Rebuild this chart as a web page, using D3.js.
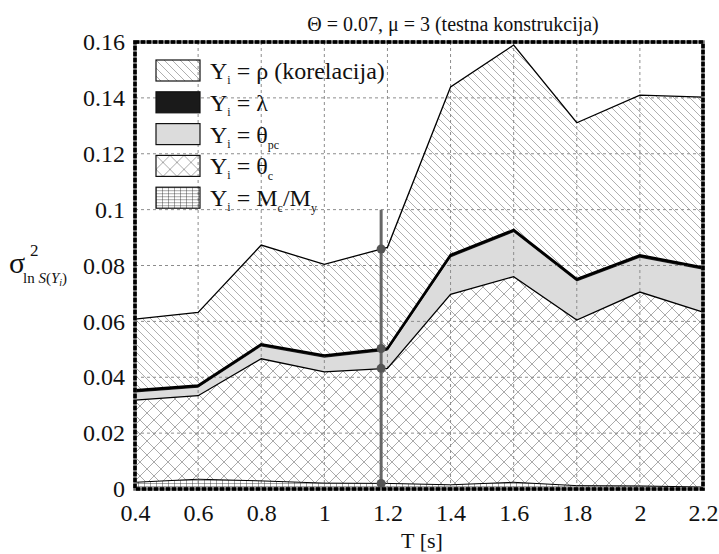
<!DOCTYPE html>
<html>
<head>
<meta charset="utf-8">
<script src="https://cdn.jsdelivr.net/npm/d3@7"></script>
<style>
  body { margin: 0; background: #fff; }
  svg, svg text { font-family: "Liberation Serif", "DejaVu Serif", serif; }
</style>
</head>
<body>
<div id="chart"></div>
<script>
// period T [s]
const periods = [0.4, 0.6, 0.8, 1.0, 1.2, 1.4, 1.6, 1.8, 2.0, 2.2];

// contribution of each parameter (stacked, bottom to top)
const mcMy   = [0.0024, 0.0035, 0.0029, 0.0021, 0.0020, 0.0015, 0.0024, 0.0012, 0.0011, 0.0007];
const thetaC = [0.0294, 0.0299, 0.0437, 0.0398, 0.0412, 0.0682, 0.0736, 0.0593, 0.0694, 0.0626];
const thetaPc = [0.0027, 0.0028, 0.0044, 0.0051, 0.0063, 0.0132, 0.0159, 0.0138, 0.0123, 0.0152];
const lambda = [0.0008, 0.0008, 0.0008, 0.0008, 0.0008, 0.0008, 0.0008, 0.0008, 0.0008, 0.0008];
const rho    = [0.0255, 0.0262, 0.0355, 0.0326, 0.0362, 0.0602, 0.0662, 0.0560, 0.0574, 0.0610];

// marker (vertical line and dots)
const markerT = 1.18;
const markerTop = 0.1;
const markerDots = [0.002, 0.0432, 0.0503, 0.0859];

const yTicks = [0, 0.02, 0.04, 0.06, 0.08, 0.1, 0.12, 0.14, 0.16];
const xTicks = [0.4, 0.6, 0.8, 1.0, 1.2, 1.4, 1.6, 1.8, 2.0, 2.2];

const width = 719, height = 554;
const margin = {top: 42, right: 16, bottom: 65, left: 135};

const svg = d3.select("#chart")
  .append("svg")
  .attr("width", width)
  .attr("height", height);

const defs = svg.append("defs");

// hatch for rho
const pRho = defs.append("pattern")
  .attr("id", "hRho").attr("patternUnits", "userSpaceOnUse")
  .attr("width", 8).attr("height", 8);
pRho.append("path").attr("d", "M-2,-2 L10,10 M-2,6 L2,10 M6,-2 L10,2")
  .attr("stroke", "#9a9a9a").attr("stroke-width", 0.8);

// cross hatch for theta_c
const pTc = defs.append("pattern")
  .attr("id", "hTc").attr("patternUnits", "userSpaceOnUse")
  .attr("width", 14).attr("height", 14);
pTc.append("path").attr("d", "M-1,-1 L15,15 M15,-1 L-1,15")
  .attr("stroke", "#a0a0a0").attr("stroke-width", 0.9);

// grid for Mc/My
const pM = defs.append("pattern")
  .attr("id", "hM").attr("patternUnits", "userSpaceOnUse")
  .attr("width", 6).attr("height", 3);
pM.append("path").attr("d", "M0,0 L0,3 M0,0 L6,0")
  .attr("stroke", "#222").attr("stroke-width", 0.8);

// scales
const x = d3.scaleLinear()
  .domain([0.4, 2.2])
  .range([margin.left, width - margin.right]);
const y = d3.scaleLinear()
  .domain([0, 0.16])
  .range([height - margin.bottom, margin.top]);

// stacked data
const table = periods.map((t, i) => ({
  T: t, m: mcMy[i], tc: thetaC[i], tpc: thetaPc[i], lam: lambda[i], rho: rho[i]
}));
const keys = ["m", "tc", "tpc", "lam", "rho"];
const fills = {m: "url(#hM)", tc: "url(#hTc)", tpc: "#dcdcdc", lam: "#1a1a1a", rho: "url(#hRho)"};
const series = d3.stack().keys(keys)(table);

const area = d3.area()
  .x((d) => x(d.data.T))
  .y0((d) => y(d[0]))
  .y1((d) => y(d[1]));

svg.append("g").selectAll("path")
  .data(series)
  .enter()
  .append("path")
    .attr("d", area)
    .attr("fill", (s) => fills[s.key]);

// grid
const grid = svg.append("g");
grid.selectAll("line.gy")
  .data(yTicks.slice(1, -1))
  .enter().append("line")
    .attr("x1", x.range()[0]).attr("x2", x.range()[1])
    .attr("y1", (d) => y(d)).attr("y2", (d) => y(d))
    .attr("stroke", "#8c8c8c").attr("stroke-width", 1)
    .attr("stroke-dasharray", "3,3");
grid.selectAll("line.gx")
  .data(xTicks.slice(1, -1))
  .enter().append("line")
    .attr("y1", y.range()[0]).attr("y2", y.range()[1])
    .attr("x1", (d) => x(d)).attr("x2", (d) => x(d))
    .attr("stroke", "#8c8c8c").attr("stroke-width", 1)
    .attr("stroke-dasharray", "3,3");

// boundary lines
const line = d3.line()
  .x((d) => x(d.data.T))
  .y((d) => y(d[1]));
const lineWidth = {m: 1, tc: 1.3, tpc: 0, lam: 2.6, rho: 1.3};
svg.append("g").selectAll("path")
  .data(series.filter((s) => lineWidth[s.key] > 0))
  .enter()
  .append("path")
    .attr("d", line)
    .attr("fill", "none")
    .attr("stroke", "#000")
    .attr("stroke-width", (s) => lineWidth[s.key]);

// marker
svg.append("line")
  .attr("x1", x(markerT)).attr("x2", x(markerT))
  .attr("y1", y(0)).attr("y2", y(markerTop))
  .attr("stroke", "#666").attr("stroke-width", 3);
svg.selectAll("circle")
  .data(markerDots)
  .enter()
  .append("circle")
    .attr("cx", x(markerT))
    .attr("cy", (d) => y(d))
    .attr("r", 4.5)
    .attr("fill", "#555");

// frame
const fw = x.range()[1] - x.range()[0], fh = y.range()[0] - y.range()[1];
svg.append("rect")
  .attr("x", margin.left).attr("y", margin.top)
  .attr("width", fw).attr("height", fh)
  .attr("fill", "none").attr("stroke", "#666").attr("stroke-width", 3.5);
svg.append("rect")
  .attr("x", margin.left).attr("y", margin.top)
  .attr("width", fw).attr("height", fh)
  .attr("fill", "none").attr("stroke", "#000").attr("stroke-width", 3.5)
  .attr("stroke-dasharray", "4,2");

const fmt = (d) => String(+d.toFixed(2));

// axes
svg.append("g")
  .attr("transform", `translate(0,${height - margin.bottom})`)
  .call(d3.axisBottom(x).tickValues(xTicks).tickSize(0).tickPadding(15).tickFormat(fmt))
  .call((g) => g.select(".domain").remove())
  .style("font-family", "Liberation Serif")
  .style("font-size", "24px")
  .selectAll("text")
    .style("font-family", "Liberation Serif")
    .attr("fill", "#111");

svg.append("g")
  .attr("transform", `translate(${margin.left},0)`)
  .call(d3.axisLeft(y).tickValues(yTicks).tickSize(0).tickPadding(10).tickFormat(fmt))
  .call((g) => g.select(".domain").remove())
  .style("font-family", "Liberation Serif")
  .style("font-size", "24px")
  .selectAll("text")
    .style("font-family", "Liberation Serif")
    .attr("fill", "#111");

// axis titles
svg.append("text")
  .attr("x", 422).attr("y", 548)
  .attr("text-anchor", "middle")
  .attr("font-size", "22px")
  .attr("fill", "#111")
  .text("T [s]");

const yl = svg.append("g").attr("fill", "#111");
yl.append("text").attr("x", 9).attr("y", 273).attr("font-size", "30px").text("σ");
yl.append("text").attr("x", 30).attr("y", 256).attr("font-size", "17px").text("2");
const sub = yl.append("text").attr("x", 23).attr("y", 283).attr("font-size", "15px");
sub.append("tspan").text("ln ");
sub.append("tspan").attr("font-style", "italic").text("S");
sub.append("tspan").text("(");
sub.append("tspan").attr("font-style", "italic").text("Y");
sub.append("tspan").attr("font-style", "italic").attr("font-size", "10px").attr("dy", 3).text("i");
sub.append("tspan").attr("dy", -3).text(")");

// title
svg.append("text")
  .attr("x", 453).attr("y", 31)
  .attr("text-anchor", "middle")
  .attr("font-size", "20px")
  .attr("fill", "#111")
  .text("Θ = 0.07, μ = 3 (testna konstrukcija)");

// legend
const legendItems = [
  {fill: "url(#hRho)", sym: "ρ (korelacija)", symSub: ""},
  {fill: "#1a1a1a", sym: "λ", symSub: ""},
  {fill: "#dcdcdc", sym: "θ", symSub: "pc"},
  {fill: "url(#hTc)", sym: "θ", symSub: "c"},
  {fill: "url(#hM)", sym: "M", symSub: "c", rest: "/M", restSub: "y"}
];
const legend = svg.append("g").attr("transform", "translate(156,60)");
legendItems.forEach((it, i) => {
  const g = legend.append("g").attr("transform", `translate(0,${i * 31.8})`);
  g.append("rect").attr("width", 44).attr("height", 21)
    .attr("fill", it.fill).attr("stroke", "#111").attr("stroke-width", 1.2);
  const t = g.append("text").attr("x", 54).attr("y", 19)
    .attr("font-size", "24px").attr("fill", "#111");
  t.append("tspan").text("Y");
  t.append("tspan").attr("font-size", "12px").attr("dy", 5).text("i");
  t.append("tspan").attr("dy", -5).text(" = " + it.sym);
  if (it.symSub) t.append("tspan").attr("font-size", "12px").attr("dy", 6).text(it.symSub);
  if (it.rest) {
    t.append("tspan").attr("dy", -6).text(it.rest);
    t.append("tspan").attr("font-size", "12px").attr("dy", 6).text(it.restSub);
  }
});
</script>
</body>
</html>
